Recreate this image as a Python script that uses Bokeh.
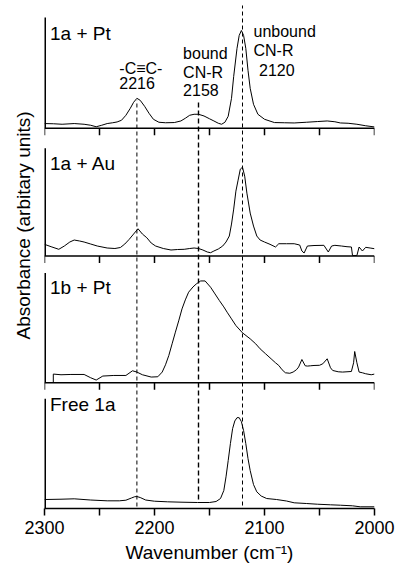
from bokeh.plotting import figure
from bokeh.models import Range1d, FixedTicker, Title
from bokeh.core.properties import value
from bokeh.embed import file_html
from bokeh.resources import INLINE

# ---------------- data (absorbance in arbitrary units above each panel's baseline) ----------------
wn_1a_pt = [2300, 2292, 2284, 2273, 2264, 2258, 2253, 2248, 2243, 2238,
             2234, 2230, 2226, 2222, 2219, 2216, 2213, 2209, 2205, 2201,
             2196, 2190, 2182, 2176, 2172, 2168, 2164, 2160, 2155, 2150,
             2146, 2142, 2139, 2136, 2133, 2130, 2128, 2125, 2123, 2121,
             2119, 2117, 2115, 2113, 2110, 2106, 2100, 2091, 2082, 2073,
             2062, 2052, 2043, 2036, 2031, 2024, 2016, 2008, 2000]
abs_1a_pt = [4.7, 4.5, 4.0, 4.7, 4.0, 3.0, 1.5, 3.0, 4.7, 5.5,
             6.3, 8, 13, 20, 26, 30, 28, 22, 15, 9,
             6, 5.5, 5.7, 7.3, 10, 13, 14, 14, 12.3, 9.5,
             7.3, 5, 4, 6, 12, 30, 52, 80, 93, 98,
             93, 80, 58, 40, 24, 14, 9, 5.7, 5.5, 5.3,
             6, 6.7, 7.3, 6.5, 5.3, 5, 4, 2.5, 1.3]

wn_1a_au = [2300, 2294, 2287, 2282, 2277, 2273, 2268, 2264, 2258, 2252,
            2243, 2236, 2231, 2227, 2223, 2219, 2215, 2211, 2207, 2203,
            2199, 2192, 2185, 2179, 2173, 2168, 2164, 2160, 2156, 2152,
            2149, 2146, 2142, 2138, 2135, 2132, 2130, 2128, 2126, 2124,
            2122, 2120, 2118, 2116, 2113, 2110, 2107, 2104, 2100, 2095,
            2090, 2087, 2080, 2073, 2068, 2066, 2064, 2061, 2055, 2046,
            2042, 2039, 2036, 2030, 2025, 2021, 2020, 2016, 2014, 2011,
            2008, 2004, 2000]
abs_1a_au = [11.7, 9.3, 6.7, 10, 14, 16, 15, 14, 12, 10,
             8, 7.5, 8.5, 12, 16.7, 22, 27.3, 22, 18.3, 13,
             10, 7.5, 6, 6.5, 6.7, 7.5, 8, 7.5, 6, 4,
             3.3, 5, 7, 10, 14, 20, 32, 47, 65, 76,
             87, 89, 80, 63, 43, 30, 20, 16, 14, 11.7,
             9, 12.3, 12.3, 12.3, 11, 5, 3, 10, 10.5, 10.7,
             4, 10, 10.7, 10, 9.3, 9, 0.5, 0.5, 9, 5,
             8.7, 8, 7.3]

wn_1b_pt = [2292, 2292, 2285, 2276, 2264, 2258, 2253, 2247, 2237, 2226,
            2220, 2216, 2211, 2203, 2197, 2193, 2190, 2187, 2184, 2181,
            2178, 2175, 2172, 2169, 2165, 2162, 2158, 2154, 2149, 2145,
            2141, 2137, 2134, 2130, 2126, 2120, 2113, 2108, 2104, 2099,
            2094, 2090, 2087, 2084, 2081, 2077, 2074, 2071, 2069, 2066,
            2063, 2061, 2058, 2055, 2050, 2047, 2043, 2040, 2038, 2033,
            2029, 2025, 2021, 2019, 2018, 2016, 2014, 2011, 2008, 2003,
            2000]
abs_1b_pt = [0, 8.7, 8, 8.3, 8.3, 5, 2.7, 6.7, 7.3, 7.3,
             12, 10.7, 8, 5.7, 6, 10.7, 18, 27.3, 39, 50.7,
             62, 74, 83, 90.7, 96, 99, 102, 102, 95.7, 89,
             82.3, 76, 70.7, 64, 57.3, 50, 44, 39, 34, 29,
             24, 20, 17.3, 13, 10, 9.5, 10.7, 13, 15.7, 23.3,
             17, 16.7, 17, 17.3, 17.5, 19, 24, 15, 12.3, 11,
             10.7, 11, 11.3, 20, 31.3, 20, 10.7, 10, 9, 8,
             8.7]

wn_free_1a = [2300, 2285, 2273, 2258, 2243, 2232, 2226, 2221, 2218, 2216,
              2213, 2208, 2200, 2188, 2175, 2161, 2150, 2144, 2140, 2137,
              2135, 2133, 2131, 2129, 2127, 2125, 2123, 2121, 2119, 2117,
              2115, 2113, 2110, 2107, 2103, 2098, 2089, 2080, 2073, 2062,
              2052, 2040, 2031, 2020, 2013, 2000]
abs_free_1a = [9, 9.3, 9.7, 8.5, 7.7, 7.7, 8.3, 10.5, 11.8, 12,
               11, 8.5, 7.3, 6.7, 6.3, 6, 6, 7, 10, 18,
               31.7, 48, 65, 80, 87.7, 91, 91, 87, 78, 65,
               50, 38, 24, 16.7, 12.5, 10, 9, 7.5, 5.7, 5,
               4.3, 3.7, 3.3, 2.7, 1.7, 1.7]

panel_names = ["1a + Pt", "1a + Au", "1b + Pt", "Free 1a"]
peak_wn = [2216, 2160, 2120]
ann_text = ["-C\u2261C-", "2216", "bound", "CN-R", "2158", "unbound", "CN-R", "2120"]
x_ticks_major = [2300, 2200, 2100, 2000]
x_ticks_minor = [2250, 2150, 2050]

# ---------------- layout (not data) ----------------
FONT = "Liberation Sans"
spectra = [(wn_1a_pt, abs_1a_pt), (wn_1a_au, abs_1a_au), (wn_1b_pt, abs_1b_pt), (wn_free_1a, abs_free_1a)]
for w, a in spectra:
    assert len(w) == len(a)
panel_base = [381, 253, 126, 0]
panel_top = [492, 361, 236, 110]
label_y = [476, 346, 221, 104]
label_x = 2295
peak_top = [409, 407, 504]
peak_bottom = [2, 9, 3]
peak_width = [1, 1.4, 1]
peak_dash = ["4 3", "5 3", "4 3"]
ann_x = [2232, 2232, 2174, 2174, 2174, 2110, 2110, 2105]
ann_y = [441, 426, 456, 437, 419, 478, 459, 439]
TICK = 7

p = figure(width=396, height=565, output_backend="svg", toolbar_location=None,
           x_range=Range1d(2300, 2000), y_range=Range1d(0, 509),
           y_axis_location=None, min_border_left=44, min_border_right=22,
           min_border_top=0, min_border_bottom=0)
p.outline_line_color = None
p.xgrid.visible = False
p.ygrid.visible = False

xa = p.xaxis[0]
xa.ticker = FixedTicker(ticks=x_ticks_major, minor_ticks=x_ticks_minor)
xa.axis_line_width = 1.5
xa.axis_line_color = "black"
xa.major_tick_line_color = "black"
xa.minor_tick_line_color = "black"
xa.major_tick_line_width = 1.5
xa.minor_tick_line_width = 1.5
xa.major_tick_in = 0
xa.major_tick_out = TICK
xa.minor_tick_in = 0
xa.minor_tick_out = TICK
xa.major_label_text_font = FONT
xa.major_label_text_font_size = "18px"
xa.major_label_text_color = "black"
xa.major_label_standoff = 5
xa.major_label_text_line_height = 0.9
xa.axis_label = "Wavenumber (cm\u207b\u00b9)"
xa.axis_label_text_font = FONT
xa.axis_label_text_font_size = "19px"
xa.axis_label_text_font_style = "normal"
xa.axis_label_text_color = "black"
xa.axis_label_text_line_height = 0.9
xa.axis_label_standoff = 5

# y label as a left-side title (reads bottom to top)
ylab = Title(text="Absorbance (arbitary units)", align="left", offset=169,
             text_font=FONT, text_font_size="19px", text_font_style="normal",
             text_color="black", vertical_align="middle", standoff=20)
p.add_layout(ylab, "left")

# spectra
for (w, a), base in zip(spectra, panel_base):
    p.line(w, [base + v for v in a], line_color="black", line_width=1)

# panel frames: x-axis lines + ticks for upper panels, y-axis lines for all
ax_x0, ax_x1, ax_y0, ax_y1 = [], [], [], []
all_ticks = x_ticks_major + x_ticks_minor
for base in panel_base[:-1]:
    ax_x0.append(2300); ax_x1.append(2000); ax_y0.append(base); ax_y1.append(base)
    for t in all_ticks:
        ax_x0.append(t); ax_x1.append(t); ax_y0.append(base); ax_y1.append(base - TICK)
p.segment(ax_x0, ax_y0, ax_x1, ax_y1, line_color="black", line_width=1.5)
p.segment([2300] * 4, panel_base, [2300] * 4, panel_top, line_color="black", line_width=3)

# dashed marker lines
for wv, y0, y1, lw, dash in zip(peak_wn, peak_bottom, peak_top, peak_width, peak_dash):
    p.segment([wv], [y0], [wv], [y1], line_color="black", line_width=lw, line_dash=dash)

# panel names
p.text([label_x] * 4, label_y, text=panel_names, text_font=value(FONT),
       text_font_size="19px", text_baseline="alphabetic", text_align="left", text_color="black")

# peak annotations
p.text(ann_x, ann_y, text=ann_text, text_font=value(FONT), text_font_size="16px",
       text_baseline="alphabetic", text_align="left", text_color="black")

open("out.html", "w").write(file_html(p, INLINE))
